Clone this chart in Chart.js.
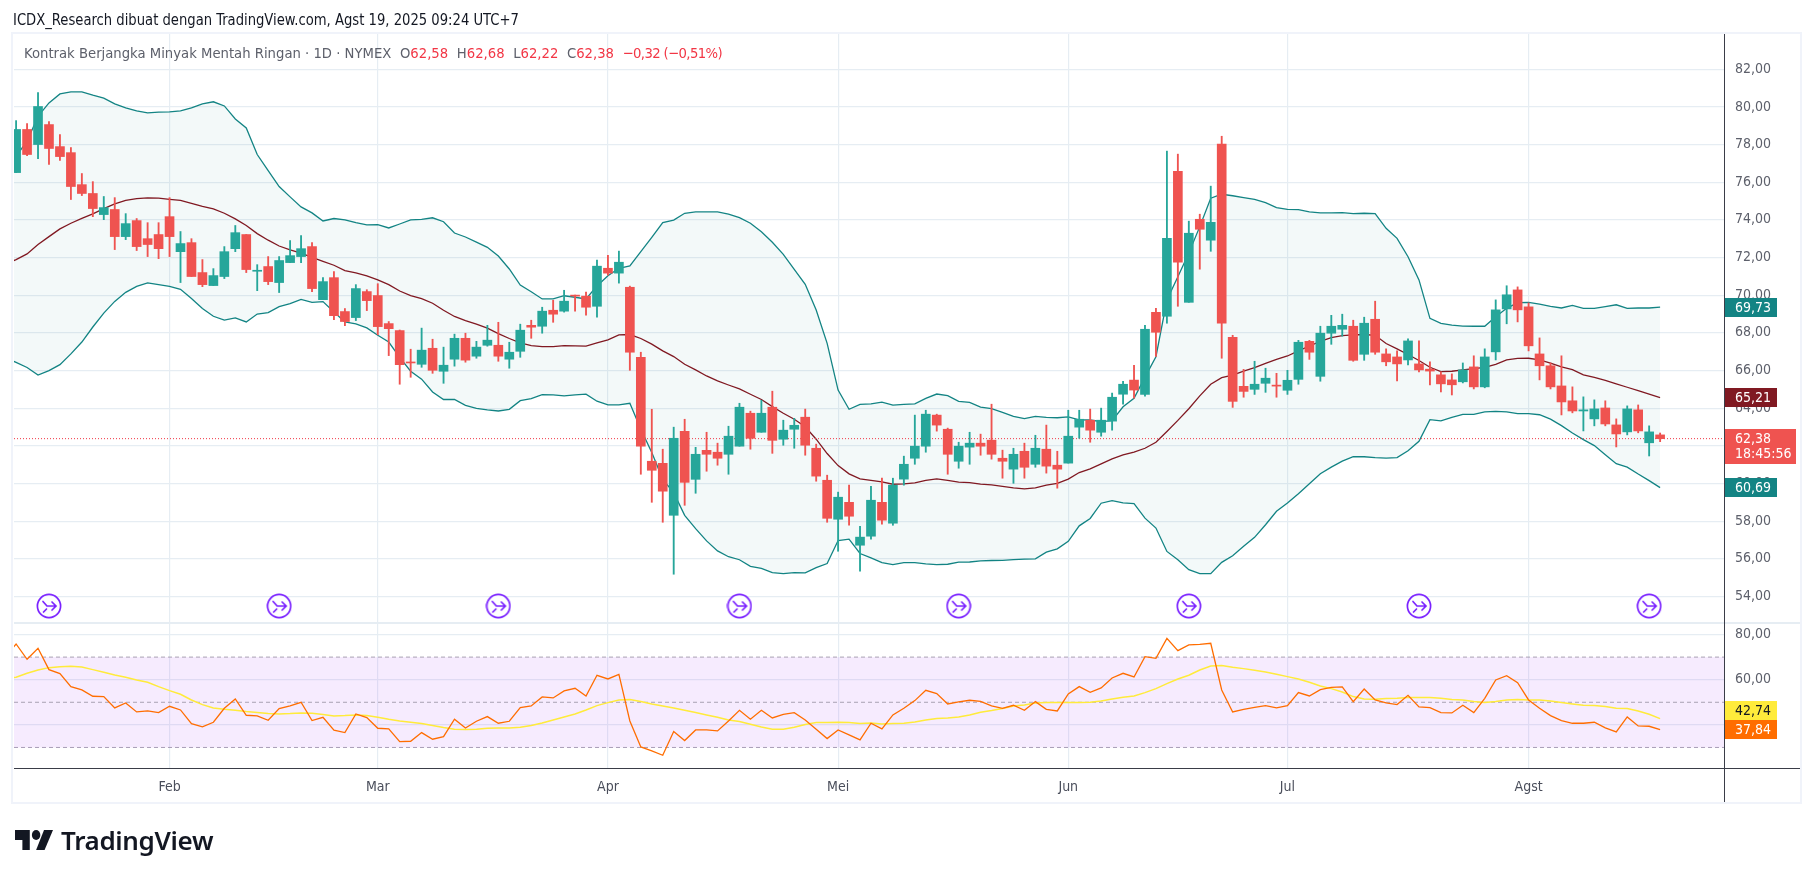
<!DOCTYPE html>
<html><head><meta charset="utf-8">
<script src="https://cdn.jsdelivr.net/npm/chart.js@4"></script>
<style>
html,body{margin:0;padding:0;background:#fff;overflow:hidden}
body{width:1814px;height:878px;position:relative;font-family:"DejaVu Sans Condensed","DejaVu Sans";font-stretch:condensed}
canvas{position:absolute;left:0;top:0}
.frame{position:absolute;left:11px;top:32px;width:1787px;height:768px;border:2px solid #f0f3fa;pointer-events:none}
.title{position:absolute;left:13px;top:10px;font-size:16px;line-height:20px;color:#131722;white-space:nowrap;transform:scaleX(.915);transform-origin:0 0}
.legend{position:absolute;left:24px;top:44px;font-size:14.7px;line-height:18px;color:#5d606b;white-space:nowrap}
.legend b{font-weight:normal;color:#f23645}
.legend span{margin-left:8.6px}
.legend .chg{letter-spacing:-.62px}
.logo{position:absolute;left:15px;top:830px;width:38px;height:20px}
.brand{position:absolute;left:61px;top:824px;font:600 26px/32px "Noto Sans";letter-spacing:-.35px;color:#131722;white-space:nowrap}
</style></head><body>
<canvas id="c" width="1814" height="878"></canvas>
<div class="frame"></div>
<div class="title">ICDX_Research dibuat dengan TradingView.com, Agst 19, 2025 09:24 UTC+7</div>
<div class="legend">Kontrak Berjangka Minyak Mentah Ringan · 1D · NYMEX<span>O<b>62,58</b></span><span>H<b>62,68</b></span><span>L<b>62,22</b></span><span>C<b>62,38</b></span><span class="chg"><b>−0,32 (−0,51%)</b></span></div>
<svg class="logo" viewBox="0 6 36 16" preserveAspectRatio="none"><path d="M14 6H0v8h7v8h7V6Z" fill="#131722"/><circle cx="20" cy="10" r="4" fill="#131722"/><path d="M20 22h8l8-16h-8.5Z" fill="#131722"/></svg>
<div class="brand">TradingView</div>
<script>
const monthIdx=[14,33,54,75,96,116,138];
const monthNames=['Feb','Mar','Apr','Mei','Jun','Jul','Agst'];
const priceTicks=[54,56,58,60,62,64,66,68,70,72,74,76,78,80,82];
const rsiTicks=[40,60,80];
const rsiLevels=[70,50,30];
const splitIdx=[3,24,44,66,86,107,128,149];
const opens=[76.51,78.80,78.00,79.06,77.89,77.57,75.87,75.40,74.28,74.55,
73.11,73.96,73.00,73.22,74.17,72.31,72.79,71.20,70.51,70.99,
72.47,73.22,71.27,71.52,70.67,71.73,72.05,72.58,69.76,70.93,
69.13,68.81,70.19,69.98,68.49,68.12,66.44,66.33,67.18,65.96,
66.60,67.71,66.76,67.34,67.34,66.60,67.02,68.40,68.35,69.20,
69.15,70.00,69.95,69.41,71.43,71.17,70.42,66.70,61.18,61.07,
58.31,62.77,60.22,61.76,61.66,61.55,61.98,63.73,62.72,64.05,
62.35,62.88,63.52,61.87,60.17,58.10,59.00,56.72,57.20,59.00,
57.89,60.23,61.34,61.98,63.63,62.88,61.18,61.93,62.14,62.30,
61.34,60.76,61.71,61.02,61.82,60.97,61.08,62.99,63.36,62.72,
63.31,64.74,65.49,64.73,69.09,68.88,76.58,69.62,74.03,72.92,
78.02,67.76,65.16,65.00,65.32,65.21,64.95,65.53,67.55,65.69,
67.98,68.19,68.35,66.86,68.72,66.88,66.72,66.56,66.35,66.07,
65.77,65.50,65.40,66.19,65.13,66.99,69.27,70.28,69.38,66.88,
66.25,65.18,64.39,63.85,63.43,64.01,63.11,62.74,63.91,62.16,62.58];
const highs=[79.27,79.11,80.76,79.22,78.53,77.84,76.46,76.03,75.24,75.18,
74.33,74.07,73.85,73.85,75.18,73.38,73.00,71.89,71.41,72.58,
73.70,73.22,71.62,72.05,72.05,72.90,73.16,72.79,70.93,71.25,
69.29,70.56,70.29,70.61,68.60,68.15,67.13,68.25,67.66,67.24,
67.93,67.98,67.55,68.40,68.56,67.50,68.46,68.67,69.36,69.73,
70.26,70.00,70.16,71.86,72.12,72.34,70.48,66.97,63.94,61.82,
62.99,63.41,61.92,62.72,62.14,63.04,64.26,63.84,64.42,64.90,
63.36,63.46,63.95,62.09,60.44,59.54,59.91,57.73,59.85,60.28,
60.28,61.45,63.63,63.89,63.68,62.94,62.19,62.72,62.62,64.21,
61.77,61.87,62.14,62.56,63.10,61.71,63.89,63.89,63.95,64.00,
64.80,65.43,66.28,68.40,69.30,77.65,77.49,73.93,74.30,75.79,
78.44,67.87,66.06,66.49,66.12,65.85,66.01,67.60,67.60,68.35,
68.93,68.99,68.67,68.83,69.68,67.15,67.04,67.68,67.57,66.46,
65.93,65.82,66.40,66.78,67.15,69.75,70.50,70.44,69.59,67.73,
66.40,66.78,65.13,64.60,64.44,64.39,63.43,64.12,64.17,63.06,62.68];
const lows=[76.51,77.41,77.25,76.94,77.15,75.08,75.29,74.17,74.01,72.42,
72.95,72.37,72.05,71.94,72.05,70.67,70.99,70.45,70.51,70.88,
72.31,71.20,70.24,70.56,70.14,71.73,71.73,70.19,69.76,68.70,
68.38,68.65,69.18,67.90,66.79,65.27,65.64,66.17,65.85,65.32,
66.23,66.44,66.65,67.29,66.49,66.12,66.70,67.71,67.98,68.56,
69.10,69.15,68.94,68.83,71.06,70.64,66.01,60.49,59.00,57.94,
55.18,58.84,59.48,60.65,60.97,60.49,61.98,61.82,62.72,61.60,
62.03,61.87,61.50,60.12,57.94,56.40,57.78,55.34,57.04,57.84,
57.78,59.91,61.02,61.66,62.78,60.49,60.81,61.02,61.50,61.29,
60.28,60.01,60.28,60.86,60.55,59.75,61.08,62.40,62.19,62.51,
62.83,64.21,64.53,64.63,66.75,68.51,69.41,69.62,71.38,72.33,
66.65,64.04,64.58,64.73,64.84,64.58,64.73,65.27,66.59,65.43,
67.39,67.82,66.49,66.54,66.86,66.25,65.45,66.30,65.93,65.24,
64.86,64.70,65.34,65.02,65.08,66.56,68.48,68.58,67.04,65.50,
65.02,63.64,63.75,62.79,63.06,63.06,61.94,62.58,62.69,61.46,62.22];
const closes=[78.80,77.47,80.02,77.79,77.36,75.77,75.40,74.60,74.65,73.11,
73.80,72.58,72.69,72.47,73.11,72.74,70.99,70.56,71.04,72.31,
73.32,71.36,71.29,70.72,71.84,72.10,72.47,70.35,70.72,68.91,
68.60,70.35,69.71,68.33,68.22,66.31,66.40,67.08,66.01,66.28,
67.71,66.55,67.24,67.61,66.76,66.97,68.14,68.30,69.15,68.99,
69.68,69.95,69.36,71.54,71.17,71.75,66.97,61.98,60.70,59.59,
62.40,60.06,61.55,61.55,61.34,62.51,64.05,62.40,63.73,62.29,
62.83,63.09,62.03,60.39,58.15,59.27,58.26,57.15,59.11,58.05,
59.91,61.02,61.98,63.68,63.10,61.55,61.98,62.14,61.98,61.55,
61.18,61.55,60.86,61.87,60.92,60.76,62.51,63.41,62.83,63.36,
64.58,65.27,64.96,68.19,68.03,73.02,71.75,73.29,73.50,73.87,
68.51,64.36,64.89,65.27,65.59,65.17,65.48,67.50,66.97,67.98,
68.35,68.40,66.54,68.51,66.97,66.46,66.35,67.57,66.03,65.97,
65.29,65.24,66.03,65.13,66.72,69.22,70.02,69.22,67.31,66.25,
65.13,64.33,63.85,63.91,63.96,63.16,62.63,63.96,62.79,62.74,62.38];
// band and oscillator series begin one session before the first visible candle
const bbUpper=[77.20,
77.38,78.18,79.50,80.21,80.69,80.80,80.80,80.62,80.46,80.16,
79.95,79.79,79.68,79.72,79.73,79.79,79.95,80.16,80.27,80.05,
79.36,78.88,77.47,76.62,75.77,75.22,74.69,74.37,73.94,74.07,
74.00,73.85,73.73,73.75,73.57,73.78,74.00,74.02,74.11,73.90,
73.30,73.09,72.82,72.54,72.08,71.39,70.54,70.18,69.80,69.80,
69.97,69.89,69.80,70.49,71.03,71.43,71.55,72.31,73.07,73.85,
73.99,74.35,74.42,74.42,74.42,74.31,74.12,73.82,73.37,72.81,
72.17,71.37,70.58,69.21,67.44,64.96,63.94,64.20,64.23,64.32,
64.16,64.20,64.23,64.52,64.75,64.66,64.36,64.31,64.06,63.97,
63.78,63.56,63.44,63.56,63.51,63.49,63.54,63.38,63.37,63.28,
63.34,64.07,64.52,65.65,66.73,69.74,70.98,72.24,73.64,75.15,
75.36,75.28,75.18,75.09,74.91,74.65,74.56,74.54,74.42,74.37,
74.37,74.38,74.33,74.35,74.33,73.55,73.02,72.04,70.81,68.77,
68.50,68.41,68.36,68.35,68.35,68.86,69.30,69.60,69.62,69.53,
69.41,69.32,69.46,69.30,69.30,69.39,69.49,69.30,69.32,69.32,69.37];
const bbBasis=[71.62,
71.89,72.19,72.69,73.11,73.52,73.82,74.08,74.32,74.60,74.85,
75.04,75.13,75.17,75.15,75.09,75.04,74.88,74.72,74.58,74.35,
74.05,73.70,73.27,72.92,72.61,72.40,72.23,72.01,71.80,71.59,
71.30,71.18,71.02,70.81,70.56,70.22,69.98,69.82,69.57,69.20,
68.87,68.65,68.46,68.25,67.96,67.70,67.47,67.32,67.27,67.27,
67.32,67.31,67.29,67.47,67.63,67.89,67.91,67.70,67.40,67.04,
66.74,66.33,66.03,65.71,65.45,65.23,65.02,64.74,64.46,64.08,
63.73,63.41,63.01,62.35,61.59,60.95,60.51,60.24,60.16,60.08,
59.96,59.98,60.03,60.16,60.24,60.17,60.07,60.05,59.96,59.93,
59.85,59.77,59.71,59.77,59.91,60.01,60.23,60.58,60.78,61.04,
61.31,61.52,61.66,61.87,62.19,62.76,63.35,63.97,64.65,65.27,
65.62,65.76,65.97,66.15,66.38,66.59,66.77,67.04,67.30,67.55,
67.75,67.85,67.89,67.91,67.87,67.43,67.15,66.85,66.53,66.17,
65.94,65.96,66.03,66.10,66.17,66.33,66.56,66.64,66.65,66.56,
66.39,66.19,66.05,65.77,65.63,65.47,65.29,65.11,64.93,64.74,64.56];
const bbLower=[66.66,
66.43,66.16,65.76,65.99,66.31,66.88,67.51,68.31,69.05,69.67,
70.15,70.47,70.65,70.56,70.47,70.31,69.82,69.29,68.88,68.68,
68.79,68.58,69.00,69.07,69.39,69.55,69.78,69.62,69.66,69.11,
68.58,68.47,68.26,67.87,67.51,66.70,65.96,65.54,64.86,64.46,
64.46,64.15,63.99,63.91,63.85,63.94,64.40,64.51,64.72,64.70,
64.65,64.70,64.74,64.37,64.17,64.17,64.26,62.88,61.64,60.22,
59.51,58.31,57.60,56.95,56.42,56.11,55.95,55.60,55.49,55.26,
55.21,55.26,55.25,55.53,55.75,56.97,57.04,56.28,56.05,55.80,
55.69,55.80,55.80,55.73,55.69,55.71,55.82,55.83,55.89,55.91,
55.92,55.96,55.98,56.00,56.35,56.53,56.93,57.75,58.14,58.95,
59.09,58.97,58.93,58.16,57.63,56.39,55.95,55.42,55.21,55.21,
55.81,56.16,56.66,57.14,57.81,58.52,58.96,59.46,59.99,60.52,
60.87,61.19,61.42,61.42,61.37,61.35,61.37,61.74,62.24,63.39,
63.32,63.51,63.67,63.67,63.80,63.83,63.80,63.71,63.71,63.65,
63.42,63.07,62.68,62.33,62.01,61.53,61.05,60.87,60.50,60.15,59.78];
const rsi=[70.00,
75.81,69.03,73.90,64.46,62.69,56.93,55.46,52.66,52.51,47.49,
49.71,45.72,46.16,45.43,48.23,46.61,40.56,39.09,41.15,47.34,
51.48,44.25,43.95,42.04,47.20,48.38,50.00,41.89,43.36,37.61,
36.58,44.84,43.22,38.50,38.20,32.60,32.74,36.58,33.63,34.81,
42.48,38.64,41.59,43.66,40.71,41.59,47.64,48.38,52.36,51.92,
55.02,56.20,52.80,61.95,60.33,62.39,41.74,30.24,28.46,26.55,
37.02,33.04,37.76,37.76,37.31,41.74,46.46,42.48,46.46,43.07,
44.69,45.43,42.18,38.05,33.92,37.76,35.55,33.33,40.71,38.20,
44.40,47.34,50.74,55.31,53.84,49.26,50.15,50.89,50.44,48.38,
47.34,48.67,46.46,50.30,46.90,46.16,53.69,56.93,54.43,56.34,
60.77,62.83,61.21,70.21,69.47,78.32,72.86,75.37,75.67,76.11,
55.46,45.72,46.90,47.79,48.53,47.49,48.53,54.28,52.80,55.61,
56.64,56.79,50.30,55.90,51.03,49.71,48.97,53.10,47.94,47.64,
45.43,45.28,48.67,45.43,51.77,59.88,61.80,58.70,51.03,47.34,
44.10,41.89,40.71,40.71,41.15,38.64,36.87,43.51,39.53,39.38,37.84];
const rsiMa=[60.50,
61.06,62.83,64.31,65.34,65.78,65.93,65.64,64.46,63.28,62.10,
61.06,59.88,58.85,56.93,55.16,53.54,51.03,48.97,47.49,46.90,
46.46,45.87,45.43,44.99,44.84,44.99,45.28,45.13,44.54,43.95,
44.10,44.40,44.10,43.36,42.48,41.74,41.15,40.56,39.68,38.79,
38.05,37.91,38.05,38.50,38.64,38.64,38.94,39.68,40.86,42.18,
43.51,44.84,46.61,48.53,49.85,51.03,51.18,50.30,49.26,48.38,
47.49,46.46,45.43,44.40,43.36,42.18,41.45,40.27,39.09,38.05,
38.05,38.94,40.12,41.00,41.00,41.15,41.00,40.56,40.86,40.41,
40.56,40.71,41.30,42.18,42.77,43.07,43.51,44.40,45.58,46.31,
47.20,48.38,48.82,49.71,49.85,49.85,49.85,49.85,50.00,50.59,
51.48,52.21,52.80,54.28,56.05,58.26,60.33,61.95,64.31,66.08,
66.23,65.49,64.90,64.16,63.42,62.39,61.36,60.33,58.85,57.23,
56.05,54.57,52.51,51.48,51.33,51.62,51.77,52.07,52.07,52.07,
51.77,51.18,51.03,50.30,49.85,50.30,51.03,51.18,51.03,51.03,
50.59,49.85,49.26,48.67,48.53,48.08,47.34,47.20,46.16,44.69,42.74];
const tagUpper='69,73', tagBasis='65,21', tagLower='60,69', tagClose='62,38', tagCountdown='18:45:56', tagRsiMa='42,74', tagRsi='37,84';

const GREEN='#26a69a',RED='#ef5350',TEAL='#138484',MAROON='#801922',ORANGE='#ff6d00',YELLOW='#ffeb3b',GRID='#e6edf3',AXIS='#3a3d48';
const FONT='"DejaVu Sans Condensed","DejaVu Sans"';
const xMin=-0.1916,xMax=155.83,lastClose=closes[closes.length-1];
const series=a=>a.map((v,i)=>({x:i-1,y:v}));
const candleUp=closes.map((c,i)=>c>=opens[i]);
const cols=candleUp.map(u=>u?GREEN:RED);
function icon(){
  const c=document.createElement('canvas');c.width=c.height=26;const g=c.getContext('2d');
  g.strokeStyle='#7a22ff';g.fillStyle='#fff';g.lineWidth=1.7;g.lineCap='round';
  g.beginPath();g.arc(13,13,11.6,0,7);g.fill();g.stroke();
  g.beginPath();g.moveTo(7,8.5);g.lineTo(11,13);g.lineTo(20,13);g.moveTo(16,9);g.lineTo(20,13);g.lineTo(16,17);
  g.moveTo(7.5,19);g.lineTo(10.5,16);g.stroke();
  return c;
}
const line=(label,data,color,extra)=>Object.assign({type:'line',label,data,borderColor:color,borderWidth:1.3,pointRadius:0,tension:0,fill:false},extra);
const datasets=[
 {type:'bar',label:'body',data:opens.map((o,i)=>({x:i,y:[o,closes[i]]})),backgroundColor:cols,barThickness:9,minBarLength:1,grouped:false,order:0,yAxisID:'y'},
 {type:'bar',label:'wick',data:lows.map((l,i)=>({x:i,y:[l,highs[i]]})),backgroundColor:cols,barThickness:1.2,grouped:false,order:1,yAxisID:'y'},
 line('last',[{x:xMin,y:lastClose},{x:xMax,y:lastClose}],'#f23645',{borderDash:[1,2],borderWidth:1,order:2,yAxisID:'y'}),
 line('upper',series(bbUpper),TEAL,{fill:{target:4,above:'rgba(19,132,132,.05)',below:'rgba(19,132,132,.05)'},order:4,yAxisID:'y'}),
 line('lower',series(bbLower),TEAL,{order:4,yAxisID:'y'}),
 line('basis',series(bbBasis),MAROON,{order:3,yAxisID:'y'}),
 {type:'line',label:'split',data:splitIdx.map(i=>({x:i,y:53.49})),showLine:false,pointStyle:icon(),pointRadius:13,order:-1,yAxisID:'y'},
 line('hi',[{x:xMin,y:rsiLevels[0]},{x:xMax,y:rsiLevels[0]}],'#a8a2b3',{borderDash:[4,3],borderWidth:1,fill:{target:8,above:'rgba(156,39,240,.095)',below:'rgba(156,39,240,.095)'},order:8,yAxisID:'y2'}),
 line('lo',[{x:xMin,y:rsiLevels[2]},{x:xMax,y:rsiLevels[2]}],'#a8a2b3',{borderDash:[4,3],borderWidth:1,order:8,yAxisID:'y2'}),
 line('mid',[{x:xMin,y:rsiLevels[1]},{x:xMax,y:rsiLevels[1]}],'#a8a2b3',{borderDash:[4,3],borderWidth:1,order:7,yAxisID:'y2'}),
 line('rsiMa',series(rsiMa),YELLOW,{borderWidth:1.5,order:6,yAxisID:'y2'}),
 line('rsi',series(rsi),ORANGE,{order:5,yAxisID:'y2'})
];
const chrome={id:'chrome',afterDraw(ch){
  const g=ch.ctx,a=ch.chartArea,y=ch.scales.y,r=ch.scales.y2,x=ch.scales.x;
  const outer=ch.width-14;
  g.save();
  g.fillStyle='#e6edf3';g.fillRect(a.left,Math.round(y.bottom)-1,outer-a.left,2);
  g.fillStyle=AXIS;
  g.fillRect(a.left,Math.round(a.bottom),outer-a.left,1);
  g.fillRect(Math.round(a.right),a.top,1,x.bottom-a.top);
  const tag=(py,txt,bg,fg,w,h,sub)=>{
    const h0=h||19,top=Math.round(py-9.5);
    g.fillStyle=bg;g.fillRect(a.right+1,top,w,h0);
    g.fillStyle=fg;g.font='14px '+FONT;g.textBaseline='middle';g.textAlign='left';
    g.fillText(txt,a.right+11,top+10);
    if(sub)g.fillText(sub,a.right+11,top+25);
  };
  const last=arr=>arr[arr.length-1];
  tag(y.getPixelForValue(last(bbUpper)),tagUpper,TEAL,'#fff',52);
  tag(y.getPixelForValue(last(bbLower)),tagLower,TEAL,'#fff',52);
  tag(y.getPixelForValue(last(bbBasis)),tagBasis,MAROON,'#fff',52);
  tag(y.getPixelForValue(lastClose),tagClose,RED,'#fff',71,35,tagCountdown);
  const pr=r.getPixelForValue(last(rsi)),pm=r.getPixelForValue(last(rsiMa));
  tag(Math.min(pm,pr-19),tagRsiMa,YELLOW,'#131722',52);
  tag(pr,tagRsi,ORANGE,'#fff',52);
  g.restore();
}};
new Chart(document.getElementById('c'),{
 data:{datasets},
 plugins:[chrome],
 options:{
  responsive:false,animation:false,devicePixelRatio:1,
  layout:{padding:{left:14,top:34,right:14,bottom:76}},
  plugins:{legend:{display:false},tooltip:{enabled:false}},
  scales:{
   x:{type:'linear',min:xMin,max:xMax,offset:false,
      afterBuildTicks(s){s.ticks=monthIdx.map(v=>({value:v}));},
      afterFit(s){s.height=34;},
      border:{display:false},
      grid:{color:GRID,lineWidth:1.2,drawTicks:false,offset:false},
      ticks:{autoSkip:false,maxRotation:0,padding:11,color:'#4a4e5b',font:{family:FONT,size:14},
        callback(v){const k=monthIdx.indexOf(v);return k<0?'':monthNames[k];}}},
   y:{type:'linear',position:'right',stack:'panes',stackWeight:589,min:52.59,max:83.87,
      afterBuildTicks(s){s.ticks=priceTicks.map(v=>({value:v}));},
      afterFit(s){s.width=76;},
      border:{display:false},
      grid:{color:GRID,lineWidth:1.2,drawTicks:false},
      ticks:{padding:11,color:'#5d606b',font:{family:FONT,size:14},autoSkip:false,
        callback(v){return v.toFixed(2).replace('.',',');}}},
   y2:{type:'linear',position:'right',stack:'panes',stackWeight:145,min:20.9,max:85.1,
      afterBuildTicks(s){s.ticks=rsiTicks.map(v=>({value:v}));},
      afterFit(s){s.width=76;},
      border:{display:false},
      grid:{color:GRID,lineWidth:1.2,drawTicks:false},
      ticks:{padding:11,color:'#5d606b',font:{family:FONT,size:14},autoSkip:false,
        callback(v){return v.toFixed(2).replace('.',',');}}}
  }
 }
});
</script>
</body></html>
